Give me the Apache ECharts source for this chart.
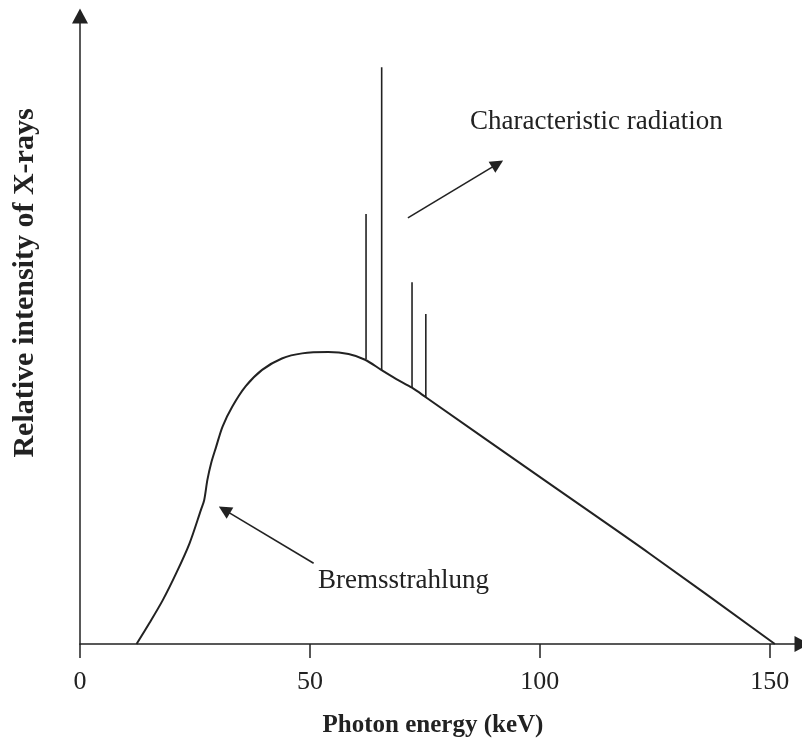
<!DOCTYPE html>
<html>
<head>
<meta charset="utf-8">
<title>X-ray spectrum</title>
<script src="https://cdn.jsdelivr.net/npm/echarts@6/dist/echarts.min.js"></script>
<style>
  html, body { margin: 0; padding: 0; background: #fff; }
  #chart { width: 802px; height: 740px; }
</style>
</head>
<body>
<div id="chart"></div>
<script>
// bremsstrahlung continuum (keV, relative intensity)
const energy = [12.3, 15.1, 18.0, 20.9, 23.8, 26.3, 27.0, 27.7, 28.5, 29.6, 31.0, 33.1, 36.0, 39.6, 43.9, 48.3, 54.0, 58.4, 62.0, 65.5, 68.7, 72.2, 75.2, 100.9, 123.9, 151.1]
const intensity = [0, 3.3, 6.9, 11.1, 15.8, 21.1, 22.6, 25.8, 28.4, 31.0, 34.2, 37.3, 40.5, 43.1, 44.9, 45.7, 45.9, 45.6, 44.7, 43.1, 41.7, 40.3, 38.8, 25.8, 14.2, 0]

// characteristic lines sitting on the continuum
const lineEnergy = [62.2, 65.6, 72.2, 75.2]
const lineBase = [44.8, 43.1, 40.3, 38.8]
const lineTop = [67.6, 90.7, 56.9, 51.9]

const xTicks = [0, 50, 100, 150]

// annotation arrows: [tail, head]
const arrowLines = [
  [[71.3, 67.0], [90.8, 75.5]],
  [[50.8, 12.7], [31.4, 21.1]]
]

const ink = '#222'
const serif = '"Liberation Serif", "Times New Roman", serif'

const chart = echarts.init(document.getElementById('chart'))

const option = {
  animation: false,
  backgroundColor: '#fff',
  grid: {
    left: 80,
    top: 16,
    width: 726.4,
    bottom: 96
  },
  xAxis: {
    type: 'value',
    min: 0,
    max: 157,
    splitLine: { show: false },
    axisLine: {
      lineStyle: { color: ink, width: 1.5 },
      symbol: ['none', 'triangle'],
      symbolSize: [16, 15]
    },
    axisTick: {
      customValues: xTicks,
      length: 14,
      lineStyle: { color: ink, width: 1.5 }
    },
    axisLabel: {
      customValues: xTicks,
      margin: 25,
      color: ink,
      fontFamily: serif,
      fontSize: 26
    }
  },
  yAxis: {
    type: 'value',
    min: 0,
    max: 98.75,
    splitLine: { show: false },
    axisTick: { show: false },
    axisLabel: { show: false },
    axisLine: {
      lineStyle: { color: ink, width: 1.5 },
      symbol: ['none', 'triangle'],
      symbolSize: [16, 15]
    }
  },
  graphic: [
    {
      type: 'text',
      x: 433,
      y: 726,
      style: {
        text: 'Photon energy (keV)',
        font: 'bold 25px ' + serif,
        fill: ink,
        align: 'center',
        verticalAlign: 'middle'
      }
    },
    {
      type: 'text',
      x: 25,
      y: 283,
      rotation: Math.PI / 2,
      style: {
        text: 'Relative intensity of X-rays',
        font: 'bold 30px ' + serif,
        fill: ink,
        align: 'center',
        verticalAlign: 'middle'
      }
    },
    {
      type: 'text',
      x: 470,
      y: 122,
      style: {
        text: 'Characteristic radiation',
        font: '27px ' + serif,
        fill: ink,
        align: 'left',
        verticalAlign: 'middle'
      }
    },
    {
      type: 'text',
      x: 318,
      y: 581,
      style: {
        text: 'Bremsstrahlung',
        font: '27px ' + serif,
        fill: ink,
        align: 'left',
        verticalAlign: 'middle'
      }
    }
  ],
  series: [
    {
      name: 'Bremsstrahlung',
      type: 'line',
      data: energy.map((e, i) => [e, intensity[i]]),
      showSymbol: false,
      smooth: 0.3,
      lineStyle: { color: ink, width: 2 }
    },
    {
      name: 'Characteristic',
      type: 'custom',
      data: lineEnergy.map((e, i) => [e, lineBase[i], lineTop[i]]),
      renderItem (params, api) {
        const p0 = api.coord([api.value(0), api.value(1)])
        const p1 = api.coord([api.value(0), api.value(2)])
        return {
          type: 'line',
          shape: { x1: p0[0], y1: p0[1], x2: p1[0], y2: p1[1] },
          style: { stroke: ink, lineWidth: 1.6 }
        }
      }
    },
    {
      name: 'arrows',
      type: 'lines',
      coordinateSystem: 'cartesian2d',
      symbol: ['none', 'triangle'],
      symbolSize: [13, 13],
      lineStyle: { color: ink, width: 1.6, opacity: 1 },
      data: arrowLines.map(c => ({ coords: c }))
    }
  ]
}

chart.setOption(option)
</script>
</body>
</html>
